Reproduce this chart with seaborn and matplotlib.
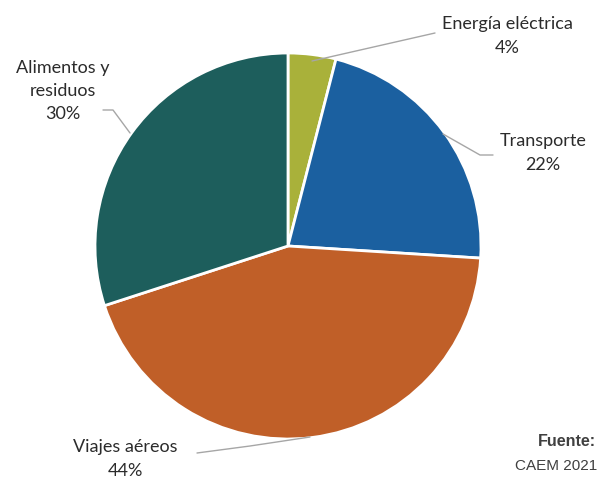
import matplotlib
matplotlib.use("Agg")
import matplotlib.pyplot as plt
import seaborn as sns

sns.set_theme(style="white")

categorias = ["Energía eléctrica", "Transporte", "Viajes aéreos", "Alimentos y\nresiduos"]
porcentajes = [4, 22, 44, 30]
colores = ["#a9b13a", "#1b60a0", "#c05f28", "#1d5e5c"]

# posiciones de las etiquetas (pixeles) y recorridos de las lineas guia
etiquetas_xy = [(507, 36), (543, 153), (125, 459), (63, 91)]
guias = [
    [(312, 61), (435, 33)],
    [(443, 134), (480, 155), (493, 155)],
    [(310, 437), (250, 446), (197, 453)],
    [(103, 110), (113, 110), (130, 133)],
]

fig = plt.figure(figsize=(5.97, 4.78), dpi=100)
ax = fig.add_axes([0, 0, 1, 1])

# eje y invertido -> counterclock=True para que quede en sentido horario
ax.pie(porcentajes, colors=colores, startangle=-90, counterclock=True,
       center=(288, 246), radius=193, frame=True,
       wedgeprops=dict(edgecolor="white", linewidth=2))
ax.set_xlim(0, 597)
ax.set_ylim(478, 0)
ax.set_aspect("equal")
ax.axis("off")

for cat, p, (x, y) in zip(categorias, porcentajes, etiquetas_xy):
    ax.text(x, y, f"{cat}\n{p}%", ha="center", va="center", fontsize=13,
            family="Lato", color="#2b2b2b", linespacing=1.55)

for g in guias:
    xs, ys = zip(*g)
    ax.plot(xs, ys, color="#a6a6a6", lw=1)

ax.text(596, 441, "Fuente:", ha="right", va="center", fontsize=11.5,
        fontweight="bold", family="Liberation Sans", color="#404040")
ax.text(597, 466, "CAEM 2021", ha="right", va="center", fontsize=11,
        family="Liberation Sans", color="#404040")

fig.savefig("out.png", dpi=100)
